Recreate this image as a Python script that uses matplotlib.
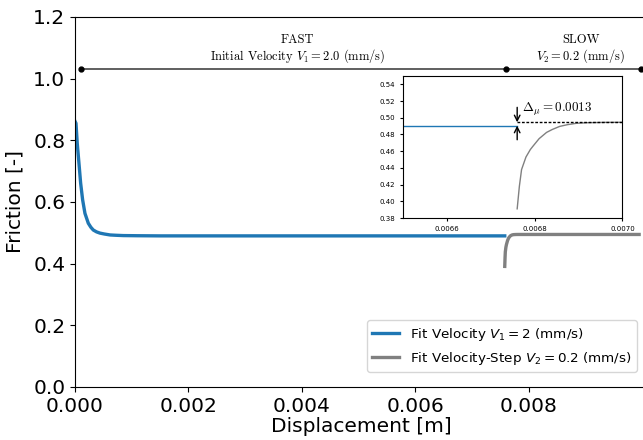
import matplotlib
matplotlib.use('Agg')
import matplotlib.pyplot as plt

# blue fit, V1 = 2 mm/s
fast_x = [0.0, 0.000018, 0.00004, 0.00007, 0.0001, 0.000135, 0.000176, 0.000235,
          0.00028, 0.000323, 0.00038, 0.00044, 0.00052, 0.00062, 0.00072, 0.00085,
          0.0011, 0.0015, 0.00758]
fast_y = [0.862, 0.855, 0.790, 0.726, 0.661, 0.607, 0.563, 0.531,
          0.518, 0.509, 0.503, 0.499, 0.496, 0.493, 0.492, 0.491,
          0.4905, 0.490, 0.490]

# gray fit, velocity step V2 = 0.2 mm/s
slow_x = [0.00758, 0.007585, 0.00759, 0.0076, 0.00761, 0.007616, 0.00763,
          0.007647, 0.00766, 0.007677, 0.007695, 0.007715, 0.00774, 0.00778,
          0.00782, 0.0085, 0.00995]
slow_y = [0.391, 0.418, 0.438, 0.453, 0.462, 0.466, 0.475,
          0.4825, 0.486, 0.4897, 0.4918, 0.4934, 0.4941, 0.4945,
          0.4946, 0.4946, 0.4946]

# the inset axis is labelled 0.00082 lower than the main axis
inset_offset = 0.00082

x_ticks = [0.0, 0.002, 0.004, 0.006, 0.008]
y_ticks = [0.0, 0.2, 0.4, 0.6, 0.8, 1.0, 1.2]
inset_x_ticks = [0.0066, 0.0068, 0.0070]
inset_y_ticks = [0.38, 0.40, 0.42, 0.44, 0.46, 0.48, 0.50, 0.52, 0.54]

phase_x = [0.0001, 0.00761, 0.00998]
phase_y = 1.03
mu_fast = 0.4906
mu_slow = 0.4946

blue = '#1f77b4'
gray = '#808080'

fig = plt.figure(figsize=(6.43, 4.40), dpi=100)
ax = fig.add_axes([0.1166, 0.1205, 0.8906, 0.841])

ax.plot(fast_x, fast_y, color=blue, lw=2.4, label=r'Fit Velocity $V_1 = 2$ (mm/s)')
ax.plot(slow_x, slow_y, color=gray, lw=2.4, label=r'Fit Velocity-Step $V_2 = 0.2$ (mm/s)')

# phase bar along the top
ax.plot([phase_x[0], phase_x[2]], [phase_y, phase_y], color='#444444', lw=1.2)
ax.plot(phase_x, [phase_y] * 3, 'o', color='black', ms=3.5)

serif = dict(family='cmr10', math_fontfamily='cm', fontsize=9, ha='center', va='center')
ax.text(0.00393, 1.125, 'FAST', **serif)
ax.text(0.00393, 1.072, r'Initial Velocity $V_1 = 2.0$ (mm/s)', **serif)
ax.text(0.00892, 1.125, 'SLOW', **serif)
ax.text(0.00892, 1.072, r'$V_2 = 0.2$ (mm/s)', **serif)

ax.set_xlim(0, 0.0101)
ax.set_ylim(0, 1.2)
ax.set_xticks(x_ticks)
ax.set_yticks(y_ticks)
ax.set_xticklabels(['%.3f' % v for v in x_ticks])
ax.tick_params(labelsize=14.5)
ax.set_xlabel('Displacement [m]', fontsize=14.5, labelpad=1)
ax.set_ylabel('Friction [-]', fontsize=14.5, labelpad=6)
ax.legend(loc='lower right', fontsize=9.7, borderaxespad=0,
          bbox_to_anchor=(637 / 643, 68 / 440), bbox_transform=fig.transFigure)

# inset zoom on the velocity step
inset_fast_x = [x - inset_offset for x in fast_x]
inset_slow_x = [x - inset_offset for x in slow_x]
step_x = inset_slow_x[0]

ins = fig.add_axes([0.627, 0.5045, 0.341, 0.3227])
ins.plot(inset_fast_x, [mu_fast] * len(fast_x), color=blue, lw=1)
ins.plot(inset_slow_x, slow_y, color=gray, lw=1)
ins.plot([step_x, 0.0070], [mu_slow, mu_slow], color='black', lw=1, linestyle=(0, (2, 1.2)))
ins.annotate('', xy=(step_x, mu_slow), xytext=(step_x, 0.5125),
             arrowprops=dict(arrowstyle='->', color='black', lw=1, shrinkA=0, shrinkB=0))
ins.annotate('', xy=(step_x, mu_fast), xytext=(step_x, 0.4737),
             arrowprops=dict(arrowstyle='->', color='black', lw=1, shrinkA=0, shrinkB=0))
ins.text(0.006772, 0.5098, r'$\Delta_\mu = 0.0013$', math_fontfamily='cm',
         fontsize=9.4, va='center', ha='left')
ins.set_xlim(0.0065, 0.0070)
ins.set_ylim(0.38, 0.55)
ins.set_xticks(inset_x_ticks)
ins.set_yticks(inset_y_ticks)
ins.set_xticklabels(['%.4f' % v for v in inset_x_ticks])
ins.set_yticklabels(['%.2f' % v for v in inset_y_ticks])
ins.tick_params(labelsize=5, length=2.5)

fig.savefig('out.png', dpi=100)
